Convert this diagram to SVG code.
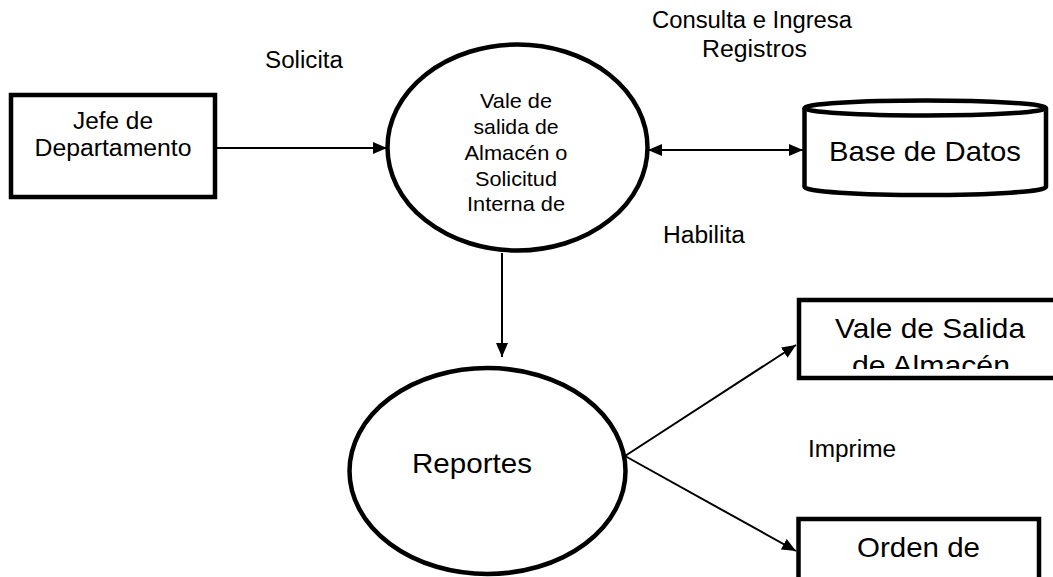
<svg xmlns="http://www.w3.org/2000/svg" width="1053" height="577" viewBox="0 0 1053 577">
  <style>
    .node { fill: #ffffff; stroke: #000000; stroke-width: 4.5; }
    .conn { stroke: #000000; stroke-width: 2; fill: none; }
    text { font-family: "Liberation Sans", Arial, sans-serif; fill: #000000; }
    .lbl { font-size: 23.5px; }
    .t20 { font-size: 21px; text-anchor: middle; }
    .t23 { font-size: 23.5px; text-anchor: middle; }
    .t28 { font-size: 28.5px; text-anchor: middle; }
  </style>
  <defs>
    <marker id="arr" viewBox="0 0 14 12" refX="14" refY="6" markerWidth="14" markerHeight="12" markerUnits="userSpaceOnUse" orient="auto-start-reverse">
      <path d="M0,0 L14,6 L0,12 z" fill="#000000"/>
    </marker>
    <clipPath id="valeClip">
      <rect x="800" y="302" width="260" height="67"/>
    </clipPath>
  </defs>
  <rect width="1053" height="577" fill="#ffffff"/>

  <g id="connectors">
    <line class="conn" x1="217" y1="148" x2="387" y2="148" marker-end="url(#arr)"/>
    <line class="conn" x1="648" y1="150" x2="803" y2="150" marker-start="url(#arr)" marker-end="url(#arr)"/>
    <line class="conn" x1="502" y1="253" x2="502" y2="357" marker-end="url(#arr)"/>
    <line class="conn" x1="625" y1="456" x2="796" y2="345" marker-end="url(#arr)"/>
    <line class="conn" x1="625" y1="456" x2="796" y2="551" marker-end="url(#arr)"/>
  </g>

  <g id="labels">
    <text class="lbl" x="265" y="68" textLength="78" lengthAdjust="spacingAndGlyphs">Solicita</text>
    <text class="lbl" x="652" y="28" textLength="200" lengthAdjust="spacingAndGlyphs">Consulta e Ingresa</text>
    <text class="lbl" x="702" y="57" textLength="105" lengthAdjust="spacingAndGlyphs">Registros</text>
    <text class="lbl" x="663" y="243" textLength="82" lengthAdjust="spacingAndGlyphs">Habilita</text>
    <text class="lbl" x="808" y="457" textLength="88" lengthAdjust="spacingAndGlyphs">Imprime</text>
  </g>

  <g id="jefe">
    <rect class="node" x="11" y="95" width="204" height="102"/>
    <text class="t23" x="113" y="129" textLength="80" lengthAdjust="spacingAndGlyphs">Jefe de</text>
    <text class="t23" x="113" y="156" textLength="157" lengthAdjust="spacingAndGlyphs">Departamento</text>
  </g>

  <g id="vale-proceso">
    <ellipse class="node" cx="517.5" cy="147.5" rx="130" ry="103"/>
    <text class="t20" x="516" y="108" textLength="72" lengthAdjust="spacingAndGlyphs">Vale de</text>
    <text class="t20" x="516" y="134" textLength="85" lengthAdjust="spacingAndGlyphs">salida de</text>
    <text class="t20" x="516" y="160" textLength="103" lengthAdjust="spacingAndGlyphs">Almacén o</text>
    <text class="t20" x="516" y="186" textLength="82" lengthAdjust="spacingAndGlyphs">Solicitud</text>
    <text class="t20" x="516" y="211" textLength="98" lengthAdjust="spacingAndGlyphs">Interna de</text>
  </g>

  <g id="base-datos">
    <path class="node" d="M804.5,108 L804.5,187 A120.75,8 0 0 0 1046,187 L1046,108"/>
    <ellipse class="node" cx="925.25" cy="108" rx="120.75" ry="7.5"/>
    <text class="t28" x="925" y="161" textLength="192" lengthAdjust="spacingAndGlyphs">Base de Datos</text>
  </g>

  <g id="reportes">
    <ellipse class="node" cx="487.5" cy="471" rx="138" ry="103"/>
    <text class="t28" x="472" y="473" textLength="120" lengthAdjust="spacingAndGlyphs">Reportes</text>
  </g>

  <g id="vale-salida">
    <rect class="node" x="799" y="300" width="264" height="78"/>
    <g clip-path="url(#valeClip)">
      <text class="t28" x="930" y="338" textLength="190" lengthAdjust="spacingAndGlyphs">Vale de Salida</text>
      <text class="t28" x="931" y="375" textLength="158" lengthAdjust="spacingAndGlyphs">de Almacén</text>
    </g>
  </g>

  <g id="orden">
    <rect class="node" x="798.5" y="519" width="240.5" height="70"/>
    <text class="t28" x="918.5" y="557" textLength="123" lengthAdjust="spacingAndGlyphs">Orden de</text>
  </g>
</svg>
